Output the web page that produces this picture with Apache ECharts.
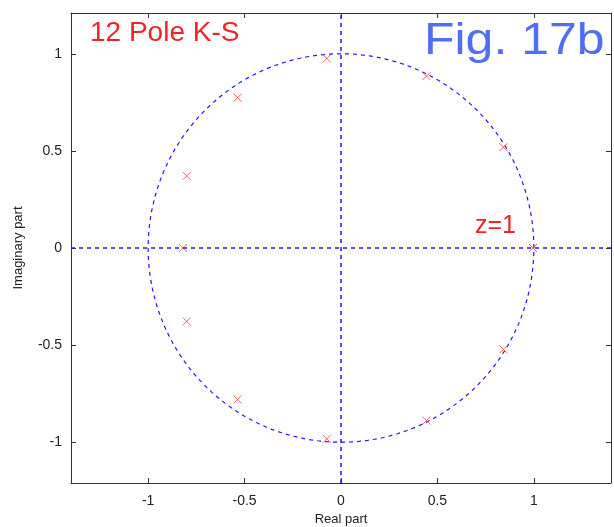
<!DOCTYPE html>
<html>
<head>
<meta charset="utf-8">
<script src="https://cdn.jsdelivr.net/npm/echarts@6/dist/echarts.min.js"></script>
<style>
  html, body { margin: 0; padding: 0; background: #fff; }
  #chart { width: 614px; height: 527px; }
</style>
</head>
<body>
<div id="chart"></div>
<script>
// Pole locations of the 12-pole filter (real, imaginary)
const poleReal = [-0.074, 0.443, 0.842, 0.995, 0.842, 0.443, -0.074, -0.536, -0.80, -0.82, -0.80, -0.536];
const poleImag = [0.976, 0.885, 0.519, 0.0, -0.522, -0.889, -0.983, -0.780, -0.378, 0.0, 0.371, 0.774];

// Tick labels shown on both axes
const xTicks = [-1, -0.5, 0, 0.5, 1];
const yTicks = [-1, -0.5, 0, 0.5, 1];

// Reference unit circle |z| = 1
const unitCircle = [];
for (let k = 0; k <= 360; k++) {
  const a = k * Math.PI / 180;
  unitCircle.push([Math.cos(a), Math.sin(a)]);
}

const poles = poleReal.map((re, i) => [re, poleImag[i]]);

const FONT = 'Liberation Sans, Arial, sans-serif';
const axisLineStyle = { lineStyle: { color: '#333', width: 1 } };

function xAxisCfg(pos, showLabels) {
  return {
    type: 'value', position: pos, min: -1.4, max: 1.4,
    axisLine: { show: true, onZero: false, ...axisLineStyle },
    axisTick: { show: true, inside: true, length: 5, customValues: xTicks, lineStyle: { color: '#333' } },
    axisLabel: { show: showLabels, customValues: xTicks, color: '#222', fontSize: 14, fontFamily: FONT, margin: 11 },
    splitLine: { show: false },
    name: showLabels ? 'Real part' : '',
    nameLocation: 'middle', nameGap: 29,
    nameTextStyle: { color: '#222', fontSize: 13, fontFamily: FONT }
  };
}
function yAxisCfg(pos, showLabels) {
  return {
    type: 'value', position: pos, min: -1.21, max: 1.21,
    axisLine: { show: true, onZero: false, ...axisLineStyle },
    axisTick: { show: true, inside: true, length: 5, customValues: yTicks, lineStyle: { color: '#333' } },
    axisLabel: { show: showLabels, customValues: yTicks, color: '#222', fontSize: 14, fontFamily: FONT, margin: 9 },
    splitLine: { show: false },
    name: showLabels ? 'Imaginary part' : '',
    nameLocation: 'middle', nameGap: 46,
    nameTextStyle: { color: '#222', fontSize: 13, fontFamily: FONT }
  };
}

const chart = echarts.init(document.getElementById('chart'), null, { renderer: 'canvas' });
chart.setOption({
  animation: false,
  backgroundColor: '#fff',
  grid: { left: 71, right: 3, top: 13, bottom: 44, containLabel: false, outerBoundsMode: 'none' },
  xAxis: [xAxisCfg('bottom', true), xAxisCfg('top', false)],
  yAxis: [yAxisCfg('left', true), yAxisCfg('right', false)],
  graphic: [
    { type: 'text', x: 90, y: 19, style: { text: '12 Pole K-S', fill: '#f02525', font: '28px ' + FONT } },
    { type: 'text', x: 424, y: 19, scaleX: 1.11, style: { text: 'Fig. 17b', fill: '#4f6ff0', font: '45px ' + FONT } },
    { type: 'text', x: 475, y: 214, style: { text: 'z=1', fill: '#f02525', font: '25px ' + FONT } }
  ],
  series: [
    {
      type: 'line', data: unitCircle, showSymbol: false, silent: true,
      lineStyle: { color: '#1a1aff', width: 1.2, type: [4, 4] },
      markLine: {
        silent: true, symbol: 'none', label: { show: false },
        lineStyle: { color: '#1a1aff', width: 1.5, type: [4, 4] },
        data: [{ xAxis: 0 }, { yAxis: 0 }]
      },
      z: 2
    },
    {
      type: 'scatter', data: poles,
      symbol: 'path://M0,0L10,10M10,0L0,10', symbolSize: 8,
      itemStyle: { color: 'none', borderColor: '#f04040', borderWidth: 1 },
      z: 3
    }
  ]
});
</script>
</body>
</html>
